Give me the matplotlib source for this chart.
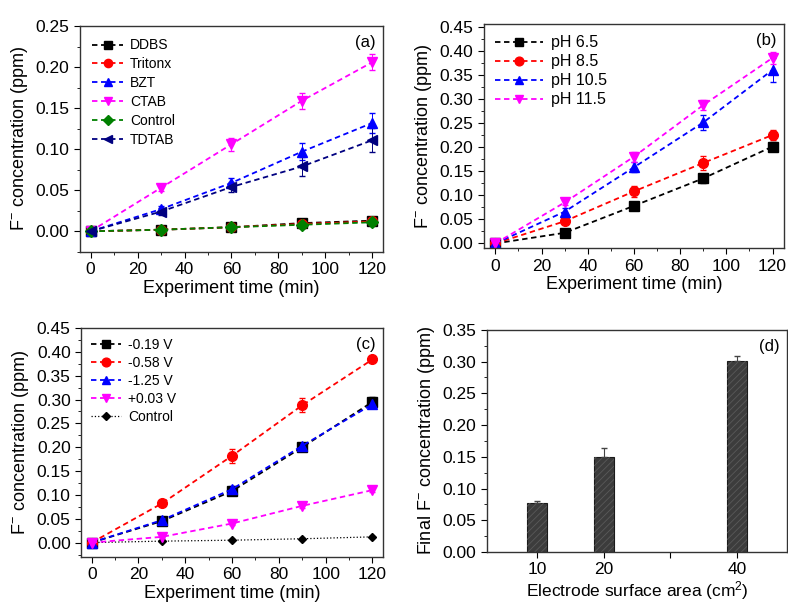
import matplotlib
matplotlib.use('Agg')
import matplotlib.pyplot as plt
from matplotlib.ticker import AutoMinorLocator

plt.rcParams['font.family'] = ['Liberation Sans', 'DejaVu Sans']
plt.rcParams['mathtext.fontset'] = 'custom'
plt.rcParams['mathtext.rm'] = 'Liberation Sans'
plt.rcParams['mathtext.it'] = 'Liberation Sans'
plt.rcParams['axes.edgecolor'] = '#333333'
plt.rcParams['hatch.linewidth'] = 0.6

# time axis shared by (a), (b), (c)
time = [0, 30, 60, 90, 120]

# (a) surfactants
a_names = ['DDBS', 'Tritonx', 'BZT', 'CTAB', 'Control', 'TDTAB']
a_ddbs = [0, 0.002, 0.005, 0.010, 0.013]
a_tritonx = [0, 0.002, 0.005, 0.009, 0.012]
a_bzt = [0, 0.027, 0.059, 0.097, 0.132]
a_ctab = [0, 0.053, 0.106, 0.159, 0.206]
a_control = [0, 0.002, 0.005, 0.008, 0.011]
a_tdtab = [0, 0.024, 0.054, 0.079, 0.111]
a_err_bzt = [0.002, 0.004, 0.006, 0.010, 0.012]
a_err_ctab = [0.002, 0.004, 0.008, 0.010, 0.010]
a_err_tdtab = [0.002, 0.004, 0.006, 0.012, 0.015]
a_err_small = [0.001, 0.001, 0.001, 0.002, 0.002]

# (b) pH
b_names = ['pH 6.5', 'pH 8.5', 'pH 10.5', 'pH 11.5']
b_ph65 = [0, 0.022, 0.078, 0.135, 0.201]
b_ph85 = [0, 0.046, 0.108, 0.167, 0.225]
b_ph105 = [0, 0.066, 0.158, 0.251, 0.360]
b_ph115 = [0, 0.085, 0.180, 0.287, 0.385]
b_err_65 = [0.003, 0.005, 0.006, 0.010, 0.010]
b_err_85 = [0.003, 0.006, 0.012, 0.015, 0.010]
b_err_105 = [0.003, 0.008, 0.010, 0.015, 0.025]
b_err_115 = [0.003, 0.006, 0.010, 0.010, 0.012]

# (c) applied potential
c_names = ['-0.19 V', '-0.58 V', '-1.25 V', '+0.03 V', 'Control']
c_019 = [0, 0.045, 0.108, 0.200, 0.295]
c_058 = [0, 0.082, 0.182, 0.288, 0.384]
c_125 = [0, 0.047, 0.112, 0.203, 0.290]
c_003 = [0, 0.012, 0.040, 0.077, 0.110]
c_control = [0, 0.003, 0.005, 0.008, 0.012]
c_err_019 = [0.003, 0.005, 0.008, 0.006, 0.010]
c_err_058 = [0.003, 0.005, 0.015, 0.015, 0.006]
c_err_125 = [0.003, 0.004, 0.006, 0.006, 0.008]
c_err_003 = [0.002, 0.003, 0.004, 0.004, 0.004]

# (d) electrode surface area
d_area = [10, 20, 40]
d_conc = [0.077, 0.150, 0.301]
d_err = [0.003, 0.014, 0.008]

colors = ['black', 'red', 'blue', 'magenta', 'green', 'navy']
markers = ['s', 'o', '^', 'v', 'D', '<']
ylabel = 'F$^{-}$ concentration (ppm)'


def style_axes(ax, tag):
    ax.tick_params(direction='out', length=4, labelsize=12.5, top=False, right=False)
    ax.tick_params(which='minor', direction='out', length=2.5, top=False, right=False)
    ax.yaxis.set_minor_locator(AutoMinorLocator(2))
    for side in ax.spines.values():
        side.set_linewidth(1.0)
    ax.text(0.975, 0.96, tag, transform=ax.transAxes, ha='right', va='top', fontsize=12)


def series(ax, y, err, i, ms=7, ls='--'):
    cont = ax.errorbar(time, y, yerr=err, color=colors[i], marker=markers[i], ms=ms,
                       ls=ls, lw=1.3, dashes=(3, 2),
                       ecolor=colors[i], elinewidth=0.7, capsize=2)
    return cont[0]


def time_axis(ax):
    ax.set_xticks([0, 20, 40, 60, 80, 100, 120])
    ax.xaxis.set_minor_locator(AutoMinorLocator(2))
    ax.set_xlabel('Experiment time (min)', fontsize=13, labelpad=2)
    ax.set_ylabel(ylabel, fontsize=13)


fig = plt.figure(figsize=(7.88, 6.04), dpi=100)

# (a)
ax = fig.add_axes([0.1015, 0.583, 0.3845, 0.374])
a_data = [a_ddbs, a_tritonx, a_bzt, a_ctab, a_control, a_tdtab]
a_errs = [a_err_small, a_err_small, a_err_bzt, a_err_ctab, a_err_small, a_err_tdtab]
lines = []
for i in range(6):
    lines.append(series(ax, a_data[i], a_errs[i], i, ms=7 if markers[i] != 'D' else 6))
ax.set_xlim(-4.5, 124.5)
ax.set_ylim(-0.025, 0.25)
ax.set_yticks([0, 0.05, 0.10, 0.15, 0.20, 0.25])
ax.set_yticklabels(['0.00', '0.05', '0.10', '0.15', '0.20', '0.25'])
time_axis(ax)
ax.legend(lines, a_names, loc='upper left', frameon=False, fontsize=10, handlelength=2.2,
          handletextpad=0.5, labelspacing=0.35, borderaxespad=0.5, markerscale=0.85)
style_axes(ax, '(a)')

# (b)
ax = fig.add_axes([0.614, 0.589, 0.381, 0.371])
b_data = [b_ph65, b_ph85, b_ph105, b_ph115]
b_errs = [b_err_65, b_err_85, b_err_105, b_err_115]
lines = []
for i in range(4):
    lines.append(series(ax, b_data[i], b_errs[i], i))
ax.set_xlim(-5, 125)
ax.set_ylim(-0.01, 0.455)
ax.set_yticks([0.05 * k for k in range(10)])
ax.set_yticklabels(['%.2f' % (0.05 * k) for k in range(10)])
time_axis(ax)
ax.legend(lines, b_names, loc='upper left', frameon=False, fontsize=11.5, handlelength=3.0,
          handletextpad=0.5, labelspacing=0.25, borderaxespad=0.3, markerscale=0.9)
style_axes(ax, '(b)')

# (c)
ax = fig.add_axes([0.103, 0.078, 0.383, 0.379])
c_data = [c_019, c_058, c_125, c_003]
c_errs = [c_err_019, c_err_058, c_err_125, c_err_003]
lines = []
for i in range(4):
    lines.append(series(ax, c_data[i], c_errs[i], i))
ctrl, = ax.plot(time, c_control, color='black', marker='D', ms=4.5, ls=':', lw=0.9)
lines.append(ctrl)
ax.set_xlim(-4.5, 124.5)
ax.set_ylim(-0.03, 0.45)
ax.set_yticks([0.05 * k for k in range(10)])
ax.set_yticklabels(['%.2f' % (0.05 * k) for k in range(10)])
time_axis(ax)
ax.legend(lines, c_names, loc='upper left', frameon=False, fontsize=10, handlelength=2.2,
          handletextpad=0.5, labelspacing=0.3, borderaxespad=0.3, markerscale=0.9)
style_axes(ax, '(c)')

# (d)
ax = fig.add_axes([0.618, 0.086, 0.381, 0.368])
ax.bar(d_area, d_conc, width=3, color='#3c3c3c', edgecolor='#1a1a1a', linewidth=0.8,
       yerr=[[0, 0, 0], d_err], ecolor='#444444', error_kw=dict(elinewidth=0.8, capsize=2.5))
ax.bar(d_area, d_conc, width=3, fill=False, hatch='/////', edgecolor='#5a5a5a', linewidth=0)
ax.set_xlim(2.5, 47.5)
ax.set_ylim(0, 0.35)
ax.set_xticks([10, 20, 30, 40])
ax.set_xticklabels(['10', '20', '', '40'])
ax.set_yticks([0.05 * k for k in range(8)])
ax.set_yticklabels(['%.2f' % (0.05 * k) for k in range(8)])
ax.set_xlabel('Electrode surface area (cm$^{2}$)', fontsize=12.5, labelpad=1)
ax.set_ylabel('Final ' + ylabel, fontsize=13)
style_axes(ax, '(d)')

fig.savefig('out.png', dpi=100)
